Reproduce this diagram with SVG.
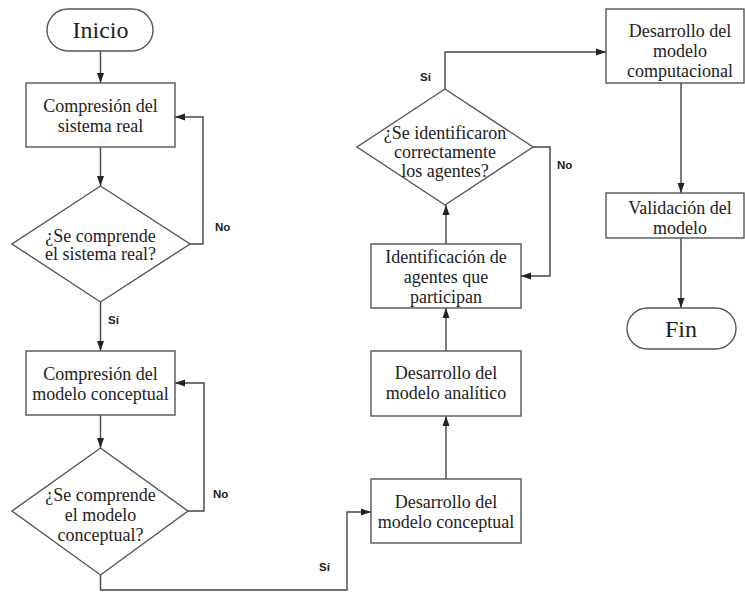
<svg xmlns="http://www.w3.org/2000/svg" width="745" height="594" viewBox="0 0 745 594">
  <style>
    .shape { fill: #ffffff; stroke: #555555; stroke-width: 1.4; }
    .wire { fill: none; stroke: #444444; stroke-width: 1.4; marker-end: url(#arrow); }
    .txt { font-family: "Liberation Serif", "Times New Roman", serif; font-size: 18px; fill: #222222; text-anchor: middle; }
    .big { font-size: 24px; }
    .lbl { font-family: "Liberation Sans", Arial, sans-serif; font-size: 11.5px; font-weight: bold; fill: #222222; }
  </style>
  <defs>
    <marker id="arrow" markerUnits="userSpaceOnUse" markerWidth="10" markerHeight="10" viewBox="0 0 10 10" refX="10" refY="5" orient="auto">
      <path d="M0,1.5 L10,5 L0,8.5 Z" fill="#222222"/>
    </marker>
  </defs>

  <rect width="745" height="594" fill="#ffffff"/>

  <!-- connectors -->
  <g id="connectors">
    <path class="wire" d="M100.5,51 V83"/>
    <path class="wire" d="M100.5,147 V186"/>
    <path class="wire" d="M190,244 H203 V117 H175"/>
    <path class="wire" d="M100.5,302 V351"/>
    <path class="wire" d="M100.5,415 V448"/>
    <path class="wire" d="M188,511 H204 V383 H175"/>
    <path class="wire" d="M100.5,575 V590 H347 V512 H371"/>
    <path class="wire" d="M446,479 V416"/>
    <path class="wire" d="M446,351 V308"/>
    <path class="wire" d="M446,244 V205"/>
    <path class="wire" d="M533,147 H550 V276 H521"/>
    <path class="wire" d="M445,89 V52 H606"/>
    <path class="wire" d="M681,83 V193"/>
    <path class="wire" d="M681,238 V308"/>
  </g>

  <!-- edge labels -->
  <g id="labels">
    <text class="lbl" x="215" y="231">No</text>
    <text class="lbl" x="108" y="324">Sí</text>
    <text class="lbl" x="213" y="498">No</text>
    <text class="lbl" x="319" y="571">Sí</text>
    <text class="lbl" x="557" y="169">No</text>
    <text class="lbl" x="420" y="81">Sí</text>
  </g>

  <g id="inicio">
    <rect class="shape" x="47" y="9" width="106" height="42" rx="21" ry="21"/>
    <text class="txt big" x="100.5" y="38">Inicio</text>
  </g>

  <g id="comp-sistema">
    <rect class="shape" x="26" y="83" width="149" height="64"/>
    <text class="txt" x="100.5" y="112">Compresión del</text>
    <text class="txt" x="100.5" y="132">sistema real</text>
  </g>

  <g id="dec-sistema">
    <polygon class="shape" points="100.5,186 190,244 100.5,302 12,244"/>
    <text class="txt" x="100.5" y="242">¿Se comprende</text>
    <text class="txt" x="100.5" y="260">el sistema real?</text>
  </g>

  <g id="comp-modelo">
    <rect class="shape" x="26" y="351" width="149" height="64"/>
    <text class="txt" x="100.5" y="380">Compresión del</text>
    <text class="txt" x="100.5" y="400">modelo conceptual</text>
  </g>

  <g id="dec-modelo">
    <polygon class="shape" points="100.5,448 188,511 100.5,575 12,511"/>
    <text class="txt" x="100.5" y="501">¿Se comprende</text>
    <text class="txt" x="100.5" y="521">el modelo</text>
    <text class="txt" x="100.5" y="541">conceptual?</text>
  </g>

  <g id="des-conceptual">
    <rect class="shape" x="371" y="479" width="150" height="64"/>
    <text class="txt" x="446" y="508">Desarrollo del</text>
    <text class="txt" x="446" y="528">modelo conceptual</text>
  </g>

  <g id="des-analitico">
    <rect class="shape" x="371" y="351" width="150" height="65"/>
    <text class="txt" x="446" y="379">Desarrollo del</text>
    <text class="txt" x="446" y="399">modelo analítico</text>
  </g>

  <g id="identificacion">
    <rect class="shape" x="371" y="244" width="150" height="64"/>
    <text class="txt" x="446" y="263">Identificación de</text>
    <text class="txt" x="446" y="283">agentes que</text>
    <text class="txt" x="446" y="303">participan</text>
  </g>

  <g id="dec-agentes">
    <polygon class="shape" points="445,89 533,147 445,205 357,147"/>
    <text class="txt" x="445" y="139">¿Se identificaron</text>
    <text class="txt" x="445" y="158">correctamente</text>
    <text class="txt" x="445" y="177">los agentes?</text>
  </g>

  <g id="des-computacional">
    <rect class="shape" x="606" y="9" width="138" height="74"/>
    <text class="txt" x="680" y="37">Desarrollo del</text>
    <text class="txt" x="680" y="57">modelo</text>
    <text class="txt" x="680" y="77">computacional</text>
  </g>

  <g id="validacion">
    <rect class="shape" x="606" y="193" width="138" height="45"/>
    <text class="txt" x="680" y="214">Validación del</text>
    <text class="txt" x="680" y="234">modelo</text>
  </g>

  <g id="fin">
    <rect class="shape" x="627" y="308" width="109" height="41" rx="20.5" ry="20.5"/>
    <text class="txt big" x="681" y="337">Fin</text>
  </g>
</svg>
